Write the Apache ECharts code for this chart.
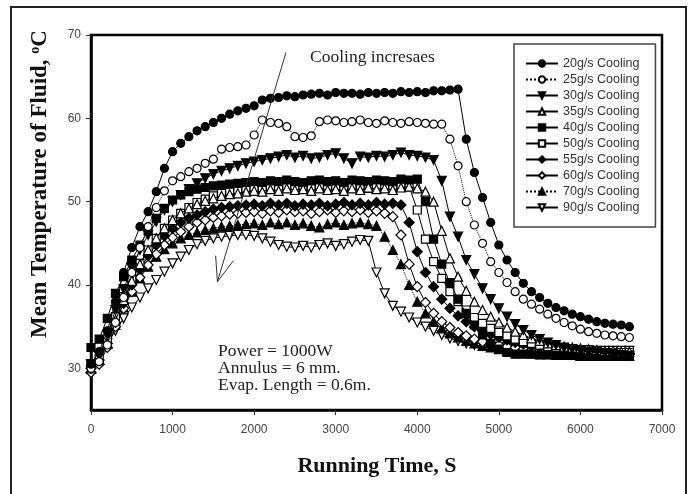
<!DOCTYPE html>
<html><head><meta charset="utf-8">
<script src="https://cdn.jsdelivr.net/npm/echarts@6/dist/echarts.min.js"></script>
<style>html,body{margin:0;padding:0;background:#fff}#c{width:696px;height:494px}</style>
</head><body><div id="c"></div>
<script>
const times = [0,100,200,300,400,500,600,700,800,900,
1000,1100,1200,1300,1400,1500,1600,1700,1800,1900,
2000,2100,2200,2300,2400,2500,2600,2700,2800,2900,
3000,3100,3200,3300,3400,3500,3600,3700,3800,3900,
4000,4100,4200,4300,4400,4500,4600,4700,4800,4900,
5000,5100,5200,5300,5400,5500,5600,5700,5800,5900,
6000,6100,6200,6300,6400,6500,6600];

const seriesNames = ['20g/s Cooling','25g/s Cooling','30g/s Cooling','35g/s Cooling','40g/s Cooling',
  '50g/s Cooling','55g/s Cooling','60g/s Cooling','70g/s Cooling','90g/s Cooling'];

const s20 = [30.5,32.0,34.5,38.0,41.5,44.5,47.0,48.8,51.2,54.0,
56.0,57.0,57.8,58.5,59.0,59.5,60.0,60.5,60.9,61.2,
61.5,62.2,62.4,62.5,62.7,62.6,62.8,62.9,63.0,62.8,
63.1,63.0,63.0,62.9,63.1,63.0,63.1,63.0,63.2,63.1,
63.2,63.1,63.3,63.3,63.4,63.5,57.5,53.5,50.5,47.5,
44.8,43.0,41.5,40.2,39.2,38.5,37.8,37.3,36.9,36.5,
36.2,35.9,35.6,35.4,35.3,35.2,35.0];
const s25 = [30.0,30.8,32.8,35.5,38.5,41.5,44.5,47.0,49.3,51.3,
52.5,53.0,53.6,54.0,54.6,55.1,56.3,56.5,56.6,56.8,
58.0,59.8,59.5,59.4,59.0,57.8,57.7,57.9,59.6,59.8,
59.7,59.5,59.6,59.8,59.5,59.4,59.7,59.5,59.4,59.6,
59.5,59.4,59.3,59.3,57.5,54.3,50.0,47.2,45.0,42.8,
41.5,40.3,39.2,38.3,37.7,37.1,36.5,36.0,35.5,35.1,
34.7,34.4,34.2,34.0,33.9,33.8,33.7];
const s30 = [30.5,31.5,34.0,37.0,39.5,42.0,44.2,46.0,47.6,49.0,
50.0,50.8,51.5,52.2,52.8,53.3,53.7,54.0,54.3,54.6,
54.8,55.0,55.2,55.4,55.6,55.3,55.5,55.2,55.3,55.6,
55.8,55.2,54.6,55.4,55.3,55.5,55.4,55.6,55.9,55.6,
55.5,55.3,55.0,52.5,48.2,45.8,43.0,41.3,39.6,38.3,
37.2,36.2,35.3,34.6,34.0,33.5,33.1,32.8,32.5,32.3,
32.1,32.0,31.9,31.8,31.7,31.6,31.5];
const s35 = [30.0,31.0,33.0,35.8,38.2,40.5,42.5,44.2,45.6,46.8,
47.8,48.6,49.2,49.7,50.1,50.4,50.7,50.9,51.0,51.2,
51.3,51.2,51.5,51.3,51.6,51.4,51.5,51.3,51.6,51.4,
51.5,51.3,51.6,51.4,51.7,51.5,51.6,51.4,51.7,51.8,
51.6,51.2,50.0,46.5,43.2,41.0,39.3,38.0,37.0,36.2,
35.5,34.9,34.4,34.0,33.6,33.3,33.0,32.8,32.6,32.5,
32.4,32.3,32.2,32.1,32.1,32.0,32.0];
const s40 = [32.5,33.5,36.0,39.0,41.0,43.0,44.8,46.5,48.0,49.2,
50.2,50.8,51.2,51.5,51.7,51.9,52.0,52.1,52.2,52.3,
52.4,52.3,52.5,52.4,52.6,52.4,52.3,52.5,52.6,52.4,
52.5,52.3,52.6,52.5,52.4,52.6,52.5,52.4,52.7,52.6,
52.7,50.0,45.5,42.5,40.3,38.3,36.6,35.2,34.0,33.0,
32.3,31.9,31.7,31.7,31.7,31.6,31.6,31.6,31.6,31.6,
31.6,31.6,31.6,31.6,31.6,31.6,31.6];
const s50 = [30.5,31.2,33.5,36.2,38.6,40.8,42.6,44.2,45.6,46.8,
47.8,48.6,49.3,49.9,50.3,50.7,51.0,51.2,51.4,51.5,
51.7,51.5,51.8,51.6,51.9,51.7,51.5,51.8,51.7,51.9,
51.6,51.8,51.7,51.9,51.6,51.8,52.0,51.7,51.9,51.8,
49.0,45.5,42.8,40.8,39.2,38.0,37.0,36.1,35.4,34.8,
34.3,33.9,33.5,33.2,33.0,32.8,32.6,32.4,32.3,32.2,
32.1,32.0,32.0,31.9,31.9,31.9,31.9];
const s55 = [30.0,31.0,33.0,35.5,37.8,40.0,41.9,43.5,44.8,45.9,
46.8,47.5,48.0,48.4,48.8,49.1,49.3,49.4,49.5,49.6,
49.7,49.5,49.8,49.6,49.8,49.5,49.7,49.6,49.8,49.5,
49.7,49.9,49.6,49.8,49.6,49.9,49.7,49.8,49.6,47.5,
44.0,41.5,39.8,38.3,37.2,36.3,35.6,35.0,34.5,34.1,
33.7,33.4,33.1,32.9,32.7,32.5,32.4,32.3,32.2,32.1,
32.0,32.0,31.9,31.9,31.8,31.8,31.8];
const s60 = [29.5,30.5,32.5,35.0,37.2,39.2,40.9,42.4,43.7,44.8,
45.7,46.4,47.0,47.5,47.8,48.1,48.3,48.5,48.6,48.7,
48.8,48.6,48.9,48.7,49.0,48.8,48.9,48.6,48.8,49.0,
48.7,48.9,48.8,49.0,48.7,48.9,48.6,48.2,46.0,42.5,
39.8,37.9,36.6,35.6,34.9,34.3,33.9,33.5,33.2,33.0,
32.8,32.6,32.5,32.3,32.2,32.1,32.0,32.0,31.9,31.9,
31.8,31.8,31.7,31.7,31.7,31.7,31.7];
const s70 = [30.0,31.0,33.0,35.2,37.3,39.2,40.8,42.2,43.4,44.3,
45.0,45.6,46.0,46.3,46.6,46.8,47.0,47.1,47.2,47.3,
47.4,47.2,47.5,47.3,47.5,47.2,47.4,47.1,46.9,47.3,
47.5,47.2,47.4,47.5,47.3,47.1,45.8,44.2,42.5,40.0,
38.0,36.6,35.6,34.8,34.2,33.7,33.3,33.0,32.7,32.5,
32.3,32.1,32.0,31.9,31.8,31.7,31.7,31.6,31.6,31.6,
31.5,31.5,31.5,31.5,31.5,31.5,31.5];
const s90 = [29.8,31.5,33.0,34.5,36.0,37.3,38.5,39.6,40.6,41.6,
42.6,43.4,44.2,44.9,45.3,45.6,45.8,45.9,46.0,46.0,
45.9,45.6,45.2,44.8,44.6,44.5,44.7,44.5,44.8,45.0,
44.7,44.9,45.2,45.4,45.3,41.5,39.0,37.5,36.8,36.1,
35.5,35.0,34.5,34.0,33.6,33.3,33.0,32.8,32.7,32.6,
32.5,32.5,32.4,32.4,32.3,32.3,32.3,32.2,32.2,32.2,
32.2,32.2,32.1,32.1,32.1,32.1,32.1];

const xTicks = [0,1000,2000,3000,4000,5000,6000,7000];
const yTicks = [30,40,50,60,70];
const valuesList = [s20,s25,s30,s35,s40,s50,s55,s60,s70,s90];

const DOWN = 'path://M0,0L20,0L10,17Z';
const looks = [
  {symbol:'circle',   size:8,  fill:'#000', dash:'solid'},
  {symbol:'circle',   size:8,  fill:'#fff', dash:'dotted'},
  {symbol:DOWN,       size:9,  fill:'#000', dash:'solid'},
  {symbol:'triangle', size:9,  fill:'#fff', dash:'solid'},
  {symbol:'rect',     size:8,  fill:'#000', dash:'solid'},
  {symbol:'rect',     size:8,  fill:'#fff', dash:'solid'},
  {symbol:'diamond',  size:10, fill:'#000', dash:'solid'},
  {symbol:'diamond',  size:10, fill:'#fff', dash:'solid'},
  {symbol:'triangle', size:9,  fill:'#000', dash:'dotted'},
  {symbol:DOWN,       size:9,  fill:'#fff', dash:'solid'}
];

const series = valuesList.map((vals, i) => ({
  name: seriesNames[i],
  type: 'line',
  data: vals.map((v, k) => [times[k], v]),
  symbol: looks[i].symbol,
  symbolSize: looks[i].size,
  showAllSymbol: true,
  itemStyle: {color: looks[i].fill, borderColor: '#000', borderWidth: 1.2},
  lineStyle: {color: '#000', width: 1, type: looks[i].dash},
  emphasis: {disabled: true},
  z: 20 - i
}));

const chart = echarts.init(document.getElementById('c'), null, {renderer: 'canvas'});
const sans = 'Liberation Sans';

chart.setOption({
  animation: false,
  backgroundColor: '#fff',
  grid: {left: 91, right: 34, top: 35, bottom: 84, show: true, borderColor: '#000', borderWidth: 2.5, backgroundColor: 'transparent'},
  xAxis: {
    type: 'value', min: 0, max: 7000, interval: 1000,
    axisLine: {show: true, lineStyle: {color: '#000', width: 2.5}},
    axisTick: {show: true, inside: false, length: 5, lineStyle: {color: '#333'}},
    axisLabel: {color: '#444', fontFamily: sans, fontSize: 12, margin: 14,
      formatter: v => String(v)},
    splitLine: {show: false}
  },
  yAxis: {
    type: 'value', min: 25, max: 70,
    axisLine: {show: true, lineStyle: {color: '#000', width: 2.5}},
    axisTick: {show: true, length: 5, lineStyle: {color: '#333'}, customValues: yTicks},
    axisLabel: {color: '#444', fontFamily: sans, fontSize: 12, margin: 10, customValues: yTicks,
      formatter: v => String(v)},
    splitLine: {show: false}
  },
  legend: {
    orient: 'vertical', left: 514, top: 44,
    padding: [13, 16, 13, 11],
    backgroundColor: '#fff',
    borderColor: '#444', borderWidth: 1.5,
    itemWidth: 32, itemHeight: 8, itemGap: 3,
    textStyle: {fontFamily: sans, fontSize: 12.5, color: '#333', lineHeight: 12},
    data: seriesNames
  },
  series: series
});

// annotation arrow in data coordinates
const arrowFrom = [2390, 67.9];
const arrowTo = [1550, 40.4];
const p0 = chart.convertToPixel({gridIndex: 0}, arrowFrom);
const p1 = chart.convertToPixel({gridIndex: 0}, arrowTo);
const ang = Math.atan2(p1[1] - p0[1], p1[0] - p0[0]);
const L = 26, spread = 0.36;
const h1 = [p1[0] - L * Math.cos(ang - spread), p1[1] - L * Math.sin(ang - spread)];
const h2 = [p1[0] - L * Math.cos(ang + spread), p1[1] - L * Math.sin(ang + spread)];

const serifFont = '17.5px "Liberation Serif"';
chart.setOption({
  graphic: [
    {type: 'rect', shape: {x: 11, y: 7, width: 675, height: 500}, style: {fill: null, stroke: '#222', lineWidth: 2}, z: 0, silent: true},
    {type: 'line', shape: {x1: p0[0], y1: p0[1], x2: p1[0], y2: p1[1]}, style: {stroke: '#333', lineWidth: 1}, z: 30},
    {type: 'polyline', shape: {points: [h1, p1, h2]}, style: {stroke: '#333', lineWidth: 1, fill: null}, z: 30},
    {type: 'text', x: 310, y: 57, z: 30, style: {text: 'Cooling incresaes', font: serifFont, fill: '#222', verticalAlign: 'middle'}},
    {type: 'text', x: 218, y: 351, z: 30, style: {text: 'Power = 1000W', font: serifFont, fill: '#222', verticalAlign: 'middle'}},
    {type: 'text', x: 218, y: 368, z: 30, style: {text: 'Annulus = 6 mm.', font: serifFont, fill: '#222', verticalAlign: 'middle'}},
    {type: 'text', x: 218, y: 385, z: 30, style: {text: 'Evap. Length = 0.6m.', font: serifFont, fill: '#222', verticalAlign: 'middle'}},
    {type: 'text', x: 377, y: 466, z: 30, style: {text: 'Running Time, S', font: 'bold 22px "Liberation Serif"', fill: '#111', align: 'center', verticalAlign: 'middle'}},
    {type: 'text', x: 40, y: 184, rotation: Math.PI / 2, z: 30,
      style: {text: 'Mean Temperature of Fluid, {s|o}C', font: 'bold 23px "Liberation Serif"', fill: '#111', align: 'center', verticalAlign: 'middle',
        rich: {s: {font: 'bold 14px "Liberation Serif"', fill: '#111', verticalAlign: 'top', padding: [0, 0, 10, 0]}}}}
  ]
});
</script>
</body></html>
